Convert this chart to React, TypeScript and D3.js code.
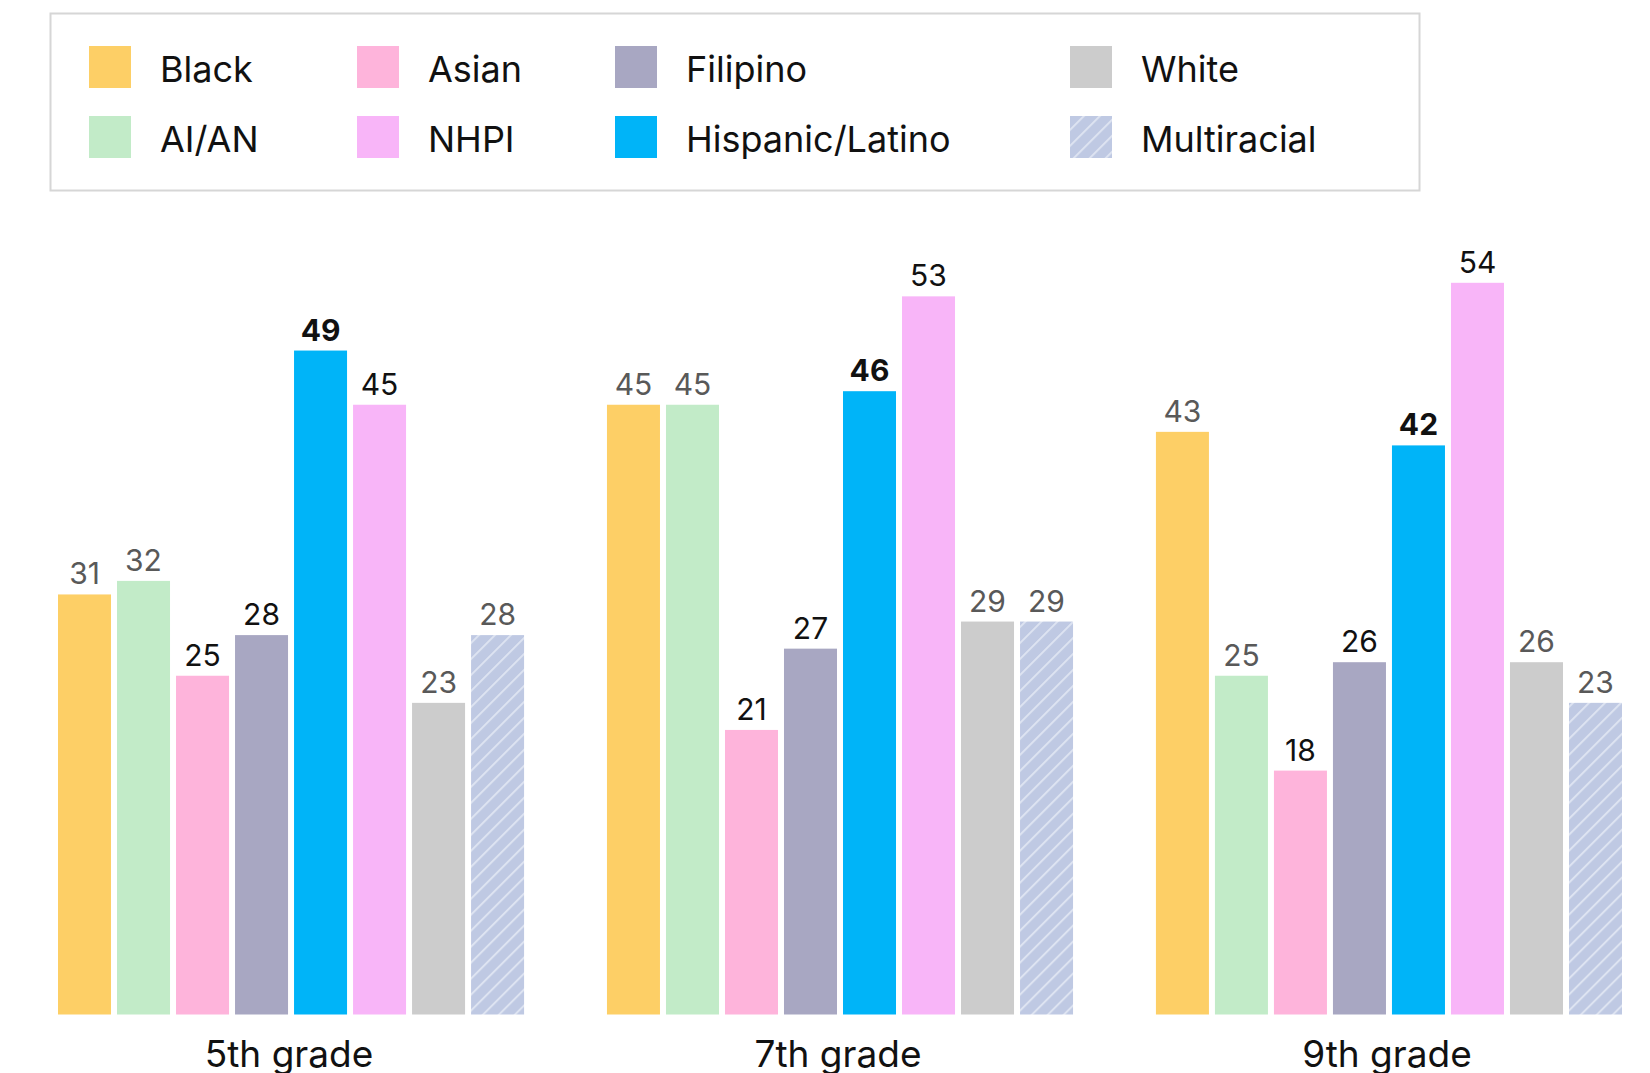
import React from 'react';
import * as d3 from 'd3';

// categories, in drawing order
const categories = ['Black', 'AI/AN', 'Asian', 'Filipino', 'Hispanic/Latino', 'NHPI', 'White', 'Multiracial'];
// legend reads column by column
const legendOrder = ['Black', 'AI/AN', 'Asian', 'NHPI', 'Filipino', 'Hispanic/Latino', 'White', 'Multiracial'];
const grades = ['5th grade', '7th grade', '9th grade'];

// percent values per grade, same order as categories
const grade5 = [31, 32, 25, 28, 49, 45, 23, 28];
const grade7 = [45, 45, 21, 27, 46, 53, 29, 29];
const grade9 = [43, 25, 18, 26, 42, 54, 26, 23];
const seriesByGrade = [grade5, grade7, grade9];

const colors: Record<string, string> = {
  Black: '#FDCF66',
  'AI/AN': '#C2EBC8',
  Asian: '#FEB4DB',
  Filipino: '#A8A7C2',
  'Hispanic/Latino': '#00B4F8',
  NHPI: '#F8B5F8',
  White: '#CCCCCC',
  Multiracial: 'url(#hatch)',
};

// label tone for each category
const darkLabel = new Set(['Asian', 'Filipino', 'Hispanic/Latino', 'NHPI']);
const boldLabel = new Set(['Hispanic/Latino']);

const W = 1650;
const H = 1073;
const FONT = 'Inter, "Noto Sans", sans-serif';

export default function App() {
  const x0 = d3.scaleBand().domain(grades).range([58, 1622]).paddingInner(0.151).paddingOuter(0);
  const x1 = d3.scaleBand().domain(categories).range([0, x0.bandwidth()]).paddingInner(0.1017).paddingOuter(0);
  const y = d3.scaleLinear().domain([0, 60]).range([1014.5, 1014.5 - 60 * 13.55]);

  const legendCols = [89, 357, 615, 1070];

  return (
    <svg width={W} height={H} style={{ position: 'absolute', left: 0, top: 0, display: 'block' }} fontFamily={FONT}>
      <defs>
        <pattern id="hatch" patternUnits="userSpaceOnUse" width={11.3} height={11.3} patternTransform="rotate(45)">
          <rect width={11.3} height={11.3} fill="#BFC9E3" />
          <line x1={1} y1={0} x2={1} y2={11.3} stroke="#DDE3F1" strokeWidth={2} />
        </pattern>
      </defs>
      <rect width={W} height={H} fill="#fff" />

      {/* legend */}
      <rect x={50.5} y={13.5} width={1369} height={177} fill="#fff" stroke="#D6D6D6" strokeWidth={2} />
      {legendOrder.map((c, i) => {
        const cx = legendCols[Math.floor(i / 2)];
        const cy = i % 2 === 0 ? 46 : 116;
        return (
          <g key={c}>
            <rect x={cx} y={cy} width={42} height={42} fill={colors[c]} />
            <text x={cx + 71} y={cy + 23} dy="0.36em" fontSize={36} fill="#111">
              {c}
            </text>
          </g>
        );
      })}

      {/* bars */}
      {grades.map((g, gi) => (
        <g key={g} transform={`translate(${x0(g)},0)`}>
          {categories.map((c, ci) => {
            const v = seriesByGrade[gi][ci];
            const bx = x1(c) as number;
            return (
              <g key={c}>
                <rect x={bx} y={y(v)} width={x1.bandwidth()} height={y(0) - y(v)} fill={colors[c]} />
                <text
                  x={bx + x1.bandwidth() / 2}
                  y={y(v) - 10}
                  textAnchor="middle"
                  fontSize={30}
                  fontWeight={boldLabel.has(c) ? 700 : 400}
                  fill={darkLabel.has(c) ? '#111' : '#595959'}
                >
                  {v}
                </text>
              </g>
            );
          })}
          <text x={x0.bandwidth() / 2 - 2} y={1066.5} textAnchor="middle" fontSize={37} fill="#111">
            {g}
          </text>
        </g>
      ))}
    </svg>
  );
}
